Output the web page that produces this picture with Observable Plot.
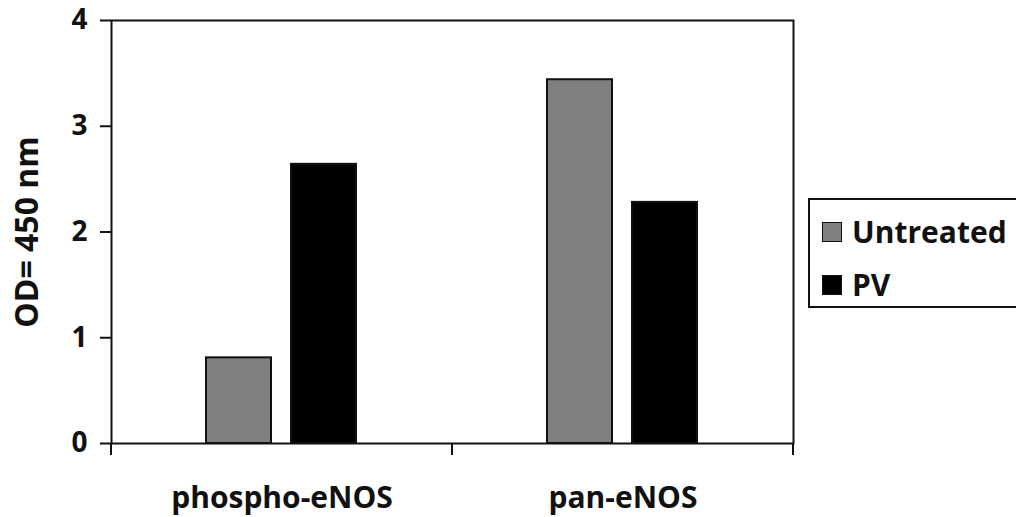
<!DOCTYPE html>
<html>
<head>
<meta charset="utf-8">
<script src="https://cdn.jsdelivr.net/npm/d3@7"></script>
<script src="https://cdn.jsdelivr.net/npm/@observablehq/plot@0.6"></script>
<style>
  html, body { margin: 0; padding: 0; background: #fff; overflow: hidden; }
  #wrap { position: relative; width: 1016px; height: 517px; overflow: hidden; font-family: "Open Sans", sans-serif; }
  #legend { position: absolute; left: 808px; top: 198px; width: 320px; height: 106px; border: 2px solid #111; border-right: none; background: #fff; }
  .item { position: absolute; left: 12px; display: flex; align-items: center; font-weight: bold; font-size: 30px; color: #111; white-space: nowrap; }
  .sw { width: 18px; height: 18px; border: 1.5px solid #111; margin-right: 10px; }
</style>
</head>
<body>
<div id="wrap"></div>
<script>
const categories = ["phospho-eNOS", "pan-eNOS"];
const series = ["Untreated", "PV"];
const untreated = [0.81, 3.44];
const pv = [2.64, 2.28];
const yTicks = [0, 1, 2, 3, 4];
const colors = ["#808080", "#000000"];

const data = [];
categories.forEach((c, i) => {
  data.push({category: c, series: "Untreated", value: untreated[i]});
  data.push({category: c, series: "PV", value: pv[i]});
});

const chart = Plot.plot({
  width: 1016,
  height: 517,
  marginLeft: 110,
  marginRight: 223,
  marginTop: 20,
  marginBottom: 74,
  style: {fontFamily: "Open Sans", color: "#111", background: "#fff", overflow: "visible"},
  fx: {domain: categories, padding: 0, label: null},
  x: {domain: series, paddingInner: 0.23, paddingOuter: 1.1, axis: null},
  y: {domain: [0, 4]},
  color: {domain: series, range: colors},
  marks: [
    Plot.barY(data, {fx: "category", x: "series", y: "value", fill: "series", stroke: "#111", strokeWidth: 2}),
    Plot.frame({facet: "super", stroke: "#111", strokeWidth: 2}),
    Plot.axisY({ticks: yTicks, tickFormat: "d", tickSize: 11, tickPadding: 13, fontSize: 28, fontWeight: "bold", label: null, strokeWidth: 2}),
    Plot.axisY({ticks: [], label: "OD= 450 nm", labelArrow: "none", labelAnchor: "center", labelOffset: 96, fontSize: 32, fontWeight: "bold"}),
    Plot.axisFx({anchor: "bottom", tickSize: 0, tickPadding: 43, fontSize: 30, fontWeight: "bold", label: null})
  ]
});

// category boundary ticks below the axis, placed with Plot's own scales
const fx = chart.scale("fx");
const y = chart.scale("y");
const bounds = categories.map(c => fx.apply(c)).concat([fx.apply(categories[categories.length - 1]) + fx.bandwidth]);
d3.select(chart).append("g")
  .attr("stroke", "#111").attr("stroke-width", 2)
  .selectAll("line").data(bounds).join("line")
  .attr("x1", d => d).attr("x2", d => d)
  .attr("y1", y.apply(0)).attr("y2", y.apply(0) + 12);

const wrap = document.getElementById("wrap");
wrap.appendChild(chart);

const legend = document.createElement("div");
legend.id = "legend";
const tops = [11, 64];
series.forEach((s, i) => {
  const it = document.createElement("div");
  it.className = "item";
  it.style.top = tops[i] + "px";
  const sw = document.createElement("div");
  sw.className = "sw";
  sw.style.background = colors[i];
  const t = document.createElement("span");
  t.textContent = s;
  it.appendChild(sw); it.appendChild(t);
  legend.appendChild(it);
});
wrap.appendChild(legend);
</script>
</body>
</html>
